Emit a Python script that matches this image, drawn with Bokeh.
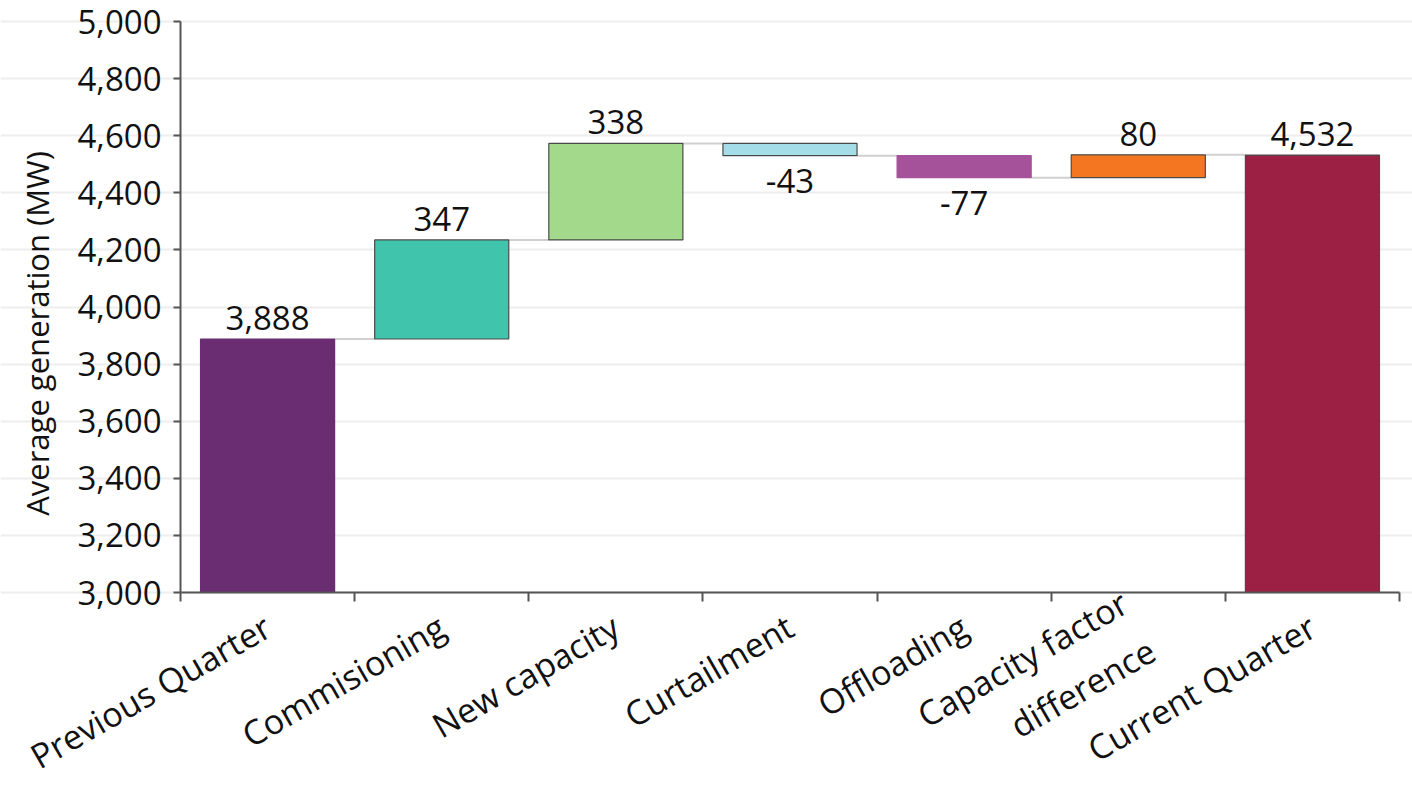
import math
from bokeh.plotting import figure
from bokeh.models import ColumnDataSource, FixedTicker, NumeralTickFormatter, Label
from bokeh.core.properties import value
from bokeh.embed import file_html
from bokeh.resources import INLINE

categories = ["Previous Quarter", "Commisioning", "New capacity", "Curtailment",
              "Offloading", "Capacity factor\ndifference", "Current Quarter"]
values = [3888, 347, 338, -43, -77, 80, 4532]
is_total = [True, False, False, False, False, False, True]
colors = ["#6B2D72", "#41C4AC", "#A2D98A", "#A4DDE8", "#A5529B", "#F47621", "#9C2043"]
outline = ["#6B2D72", "#4A4A4A", "#4A4A4A", "#4A4A4A", "#A5529B", "#4A4A4A", "#4A4A4A"]
y_ticks = [3000, 3200, 3400, 3600, 3800, 4000, 4200, 4400, 4600, 4800, 5000]
y_title = "Average generation (MW)"

FONT = "Open Sans"
Y0, Y1 = 3000, 5000
BAR_W = 0.77

# layout geometry (pixels): the plotting frame fills the canvas, the axes are pinned
W, H = 1412, 788
LEFT, RIGHT = 180, 1399      # pixel columns of the y axis and of the right end
TOP, AXIS_Y = 21, 592        # pixel rows of 5,000 and of 3,000
n = len(categories)
px_x = (RIGHT - LEFT) / n
x_start, x_end = -LEFT / px_x, n + (W - RIGHT) / px_x
px_y = (AXIS_Y - TOP) / (Y1 - Y0)
y_end = Y1 + TOP / px_y
y_start = Y1 - (H - TOP) / px_y

centers = [i + 0.5 for i in range(n)]
bottoms, tops, running = [], [], []
total = 0
for v, t in zip(values, is_total):
    if t:
        total = v
        bottoms.append(Y0)
        tops.append(v)
    else:
        lo, hi = total, total + v
        bottoms.append(min(lo, hi))
        tops.append(max(lo, hi))
        total = total + v
    running.append(total)

label_y, label_base, label_off = [], [], []
for v, t, b, tp in zip(values, is_total, bottoms, tops):
    if t or v >= 0:
        label_y.append(tp); label_base.append("bottom"); label_off.append(-9)
    else:
        label_y.append(b); label_base.append("top"); label_off.append(13)

src = ColumnDataSource(dict(
    left=[c - BAR_W / 2 for c in centers],
    right=[c + BAR_W / 2 for c in centers],
    bottom=bottoms, top=tops, color=colors, outline=outline,
    x=centers, ly=label_y, base=label_base, off=label_off,
    txt=[f"{v:,}" for v in values],
))

p = figure(width=W, height=H, x_range=(x_start, x_end), y_range=(y_start, y_end),
           output_backend="svg", toolbar_location=None,
           min_border_left=0, min_border_right=0, min_border_top=0,
           min_border_bottom=0)
p.outline_line_color = None
p.background_fill_color = "white"
p.border_fill_color = "white"

# grid
p.xgrid.grid_line_color = None
p.ygrid.ticker = FixedTicker(ticks=y_ticks)
p.ygrid.bounds = (0, n)
p.ygrid.grid_line_color = "#EEEEEE"
p.ygrid.grid_line_width = 2

# connectors
seg = ColumnDataSource(dict(
    x0=[centers[i] + BAR_W / 2 for i in range(n - 1)],
    x1=[centers[i + 1] - BAR_W / 2 for i in range(n - 1)],
    y=[running[i] for i in range(n - 1)],
))
p.segment(x0="x0", y0="y", x1="x1", y1="y", source=seg, line_color="#D0D0D0", line_width=2)

# bars
p.quad(left="left", right="right", bottom="bottom", top="top", source=src,
       fill_color="color", line_color="outline", line_width=1.2)

# value labels
p.text(x="x", y="ly", text="txt", source=src, text_align="center",
       text_baseline="base", y_offset="off", text_font=value(FONT),
       text_font_size="33px", text_color="#111111")

# y axis, pinned at the left edge of the categories
ya = p.yaxis[0]
ya.fixed_location = 0
ya.bounds = (Y0, Y1)
ya.ticker = FixedTicker(ticks=y_ticks, minor_ticks=[])
ya.formatter = NumeralTickFormatter(format="0,0")
ya.major_label_text_font = FONT
ya.major_label_text_font_size = "33px"
ya.major_label_text_color = "#111111"
ya.major_label_standoff = 12
ya.major_tick_out = 7
ya.major_tick_in = 0
ya.minor_tick_out = 0
ya.minor_tick_in = 0
ya.axis_line_color = "#555555"
ya.axis_line_width = 2
ya.major_tick_line_color = "#555555"
ya.major_tick_line_width = 2

# y axis title
p.add_layout(Label(x=36, y=H - 333, x_units="screen", y_units="screen",
                   text=y_title, angle=math.pi / 2, text_align="center",
                   text_baseline="middle", text_font=FONT, text_font_size="31px",
                   text_color="#111111"))

# x axis, pinned at the bottom of the value range
xa = p.xaxis[0]
xa.fixed_location = Y0
xa.bounds = (0, n)
xa.ticker = FixedTicker(ticks=centers, minor_ticks=list(range(n + 1)))
xa.major_label_overrides = {c: name for c, name in zip(centers, categories)}
xa.major_label_orientation = math.pi / 6
xa.major_label_text_font = FONT
xa.major_label_text_font_size = "34px"
xa.major_label_text_color = "#111111"
xa.major_label_standoff = 22
xa.major_tick_out = 0
xa.major_tick_in = 0
xa.minor_tick_out = 9
xa.minor_tick_in = 0
xa.minor_tick_line_color = "#555555"
xa.minor_tick_line_width = 2
xa.axis_line_color = "#555555"
xa.axis_line_width = 2

open("out.html", "w").write(file_html(p, INLINE))
